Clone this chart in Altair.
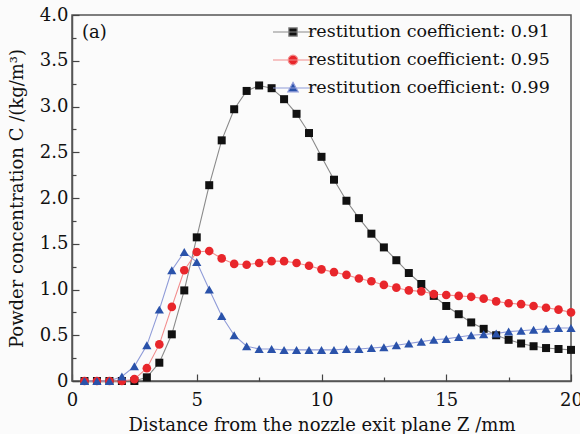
import altair as alt
import pandas as pd

# ---- data ----
z_values = [0.5, 1.0, 1.5, 2.0, 2.5, 3.0, 3.5, 4.0, 4.5, 5.0, 5.5, 6.0, 6.5, 7.0, 7.5, 8.0, 8.5, 9.0, 9.5, 10.0,
            10.5, 11.0, 11.5, 12.0, 12.5, 13.0, 13.5, 14.0, 14.5, 15.0, 15.5, 16.0, 16.5, 17.0, 17.5, 18.0, 18.5, 19.0, 19.5, 20.0]

c_091 = [0, 0, 0, 0, 0, 0.04, 0.20, 0.51, 0.99, 1.57, 2.14, 2.63, 2.97, 3.17, 3.23, 3.20, 3.08, 2.92, 2.71, 2.45,
         2.20, 1.97, 1.78, 1.61, 1.46, 1.32, 1.18, 1.06, 0.93, 0.82, 0.73, 0.64, 0.57, 0.50, 0.45, 0.41, 0.38, 0.36, 0.35, 0.34]
c_095 = [0, 0, 0, 0, 0.02, 0.14, 0.40, 0.81, 1.21, 1.41, 1.42, 1.34, 1.28, 1.27, 1.29, 1.31, 1.31, 1.29, 1.26, 1.22,
         1.19, 1.16, 1.12, 1.09, 1.05, 1.02, 0.99, 0.98, 0.95, 0.94, 0.93, 0.92, 0.90, 0.87, 0.85, 0.84, 0.82, 0.80, 0.78, 0.75]
c_099 = [0, 0, 0, 0.05, 0.16, 0.39, 0.78, 1.21, 1.41, 1.30, 1.00, 0.71, 0.50, 0.38, 0.35, 0.35, 0.34, 0.34, 0.34, 0.34,
         0.34, 0.35, 0.35, 0.36, 0.37, 0.39, 0.41, 0.43, 0.45, 0.46, 0.48, 0.50, 0.51, 0.52, 0.54, 0.55, 0.56, 0.57, 0.58, 0.58]

series_names = ["restitution coefficient: 0.91",
                "restitution coefficient: 0.95",
                "restitution coefficient: 0.99"]

x_major = [0, 5, 10, 15, 20]
x_minor = [2.5, 7.5, 12.5, 17.5]
y_major = [0, 0.5, 1.0, 1.5, 2.0, 2.5, 3.0, 3.5, 4.0]
y_minor = [0.25, 0.75, 1.25, 1.75, 2.25, 2.75, 3.25, 3.75]

# ---- styling ----
FONT = "DejaVu Serif"
W, H = 499, 366
marker_colors = ["#111111", "#e8262b", "#2a52aa"]
line_colors = ["#8a8a8a", "#f28c8c", "#8f9bd8"]
marker_shapes = ["square", "circle", "triangle-up"]
marker_sizes = [64, 85, 115]
legend_shapes = [
    "M-2,0L2,0M-0.42,-0.42L0.42,-0.42L0.42,0.42L-0.42,0.42Z",
    "M-2,0L2,0M0.48,0A0.48,0.48 0 1,1 -0.48,0A0.48,0.48 0 1,1 0.48,0Z",
    "M-2,0L2,0M0,-0.56L0.52,0.38L-0.52,0.38Z",
]

rows = []
for name, vals in zip(series_names, [c_091, c_095, c_099]):
    for z, c in zip(z_values, vals):
        rows.append({"Z": z, "C": c, "series": name})
df = pd.DataFrame(rows)

xscale = alt.Scale(domain=[0, 20], nice=False, zero=False)
yscale = alt.Scale(domain=[0, 4], nice=False, zero=False)

base = alt.Chart(df)

main_x_axis = alt.Axis(values=x_major, ticks=False, grid=False, labelFont=FONT, labelFontSize=18,
                       labelColor="#111", labelPadding=10, title="Distance from the nozzle exit plane Z /mm",
                       titleFont=FONT, titleFontSize=18, titleFontWeight="normal", titleColor="#111",
                       titlePadding=7, domainColor="#555", domainWidth=1.5, labelFlush=False)
main_y_axis = alt.Axis(values=y_major, ticks=False, grid=False, labelFont=FONT, labelFontSize=18,
                       labelColor="#111", labelPadding=4,
                       labelExpr="datum.value == 0 ? '0' : format(datum.value, '.1f')",
                       title="Powder concentration C /(kg/m\u00b3)", titleFont=FONT, titleFontSize=18,
                       titleFontWeight="normal", titleColor="#111", titlePadding=13,
                       domainColor="#555", domainWidth=1.5)

lines = base.mark_line(strokeWidth=1.1).encode(
    x=alt.X("Z:Q", scale=xscale, axis=main_x_axis),
    y=alt.Y("C:Q", scale=yscale, axis=main_y_axis),
    color=alt.Color("series:N", scale=alt.Scale(domain=series_names, range=line_colors), legend=None),
    detail="series:N",
)

points = base.mark_point(filled=True, opacity=1).encode(
    x=alt.X("Z:Q", scale=xscale, axis=None),
    y=alt.Y("C:Q", scale=yscale, axis=None),
    shape=alt.Shape("series:N", scale=alt.Scale(domain=series_names, range=marker_shapes), legend=None),
    fill=alt.Fill("series:N", scale=alt.Scale(domain=series_names, range=marker_colors), legend=None),
    size=alt.Size("series:N", scale=alt.Scale(domain=series_names, range=marker_sizes), legend=None),
)


def tick_layer(xvals, yvals, size):
    return base.mark_point(opacity=0).encode(
        x=alt.X("Z:Q", scale=xscale,
                axis=alt.Axis(orient="top", offset=-H, values=xvals, labels=False, domain=False,
                              ticks=True, tickSize=size, tickColor="#444", tickWidth=1.2, grid=False, title=None)),
        y=alt.Y("C:Q", scale=yscale,
                axis=alt.Axis(orient="right", offset=-W, values=yvals, labels=False, domain=False,
                              ticks=True, tickSize=size, tickColor="#444", tickWidth=1.2, grid=False, title=None)),
    )


major_ticks = tick_layer(x_major, y_major, 7)
minor_ticks = tick_layer(x_minor, y_minor, 4)

leg = alt.Legend(orient="none", legendX=210, legendY=6, title=None, symbolSize=400, symbolStrokeWidth=1.2,
                 symbolOpacity=1, labelFont=FONT, labelFontSize=17.5, labelColor="#111", labelOffset=4,
                 rowPadding=8, padding=0, labelLimit=400)

legend_layer = base.mark_point(filled=True, opacity=0).encode(
    x=alt.X("Z:Q", scale=xscale, axis=None),
    y=alt.Y("C:Q", scale=yscale, axis=None),
    shape=alt.Shape("series:N", scale=alt.Scale(domain=series_names, range=legend_shapes), legend=leg),
    fill=alt.Fill("series:N", scale=alt.Scale(domain=series_names, range=marker_colors), legend=leg),
    stroke=alt.Stroke("series:N", scale=alt.Scale(domain=series_names, range=line_colors), legend=leg),
)

label_a = alt.Chart(pd.DataFrame({"t": ["(a)"]})).mark_text(
    font=FONT, fontSize=18, color="#111", align="left", baseline="middle"
).encode(text="t:N", x=alt.value(10), y=alt.value(18))

chart = alt.layer(lines, points, major_ticks, minor_ticks, legend_layer, label_a).resolve_scale(
    shape="independent", fill="independent", stroke="independent", size="independent", color="independent"
).resolve_axis(x="independent", y="independent").properties(
    width=W, height=H, autosize="none",
    padding={"left": 72, "top": 15, "right": 9, "bottom": 53},
    background="#fbfbfb",
).configure_view(stroke="#555", strokeWidth=1.5).configure_legend(
    labelFont=FONT, labelFontSize=17.5, labelColor="#111", labelLimit=400
)

chart.save("out.html", embed_options={"renderer": "svg", "actions": False})
